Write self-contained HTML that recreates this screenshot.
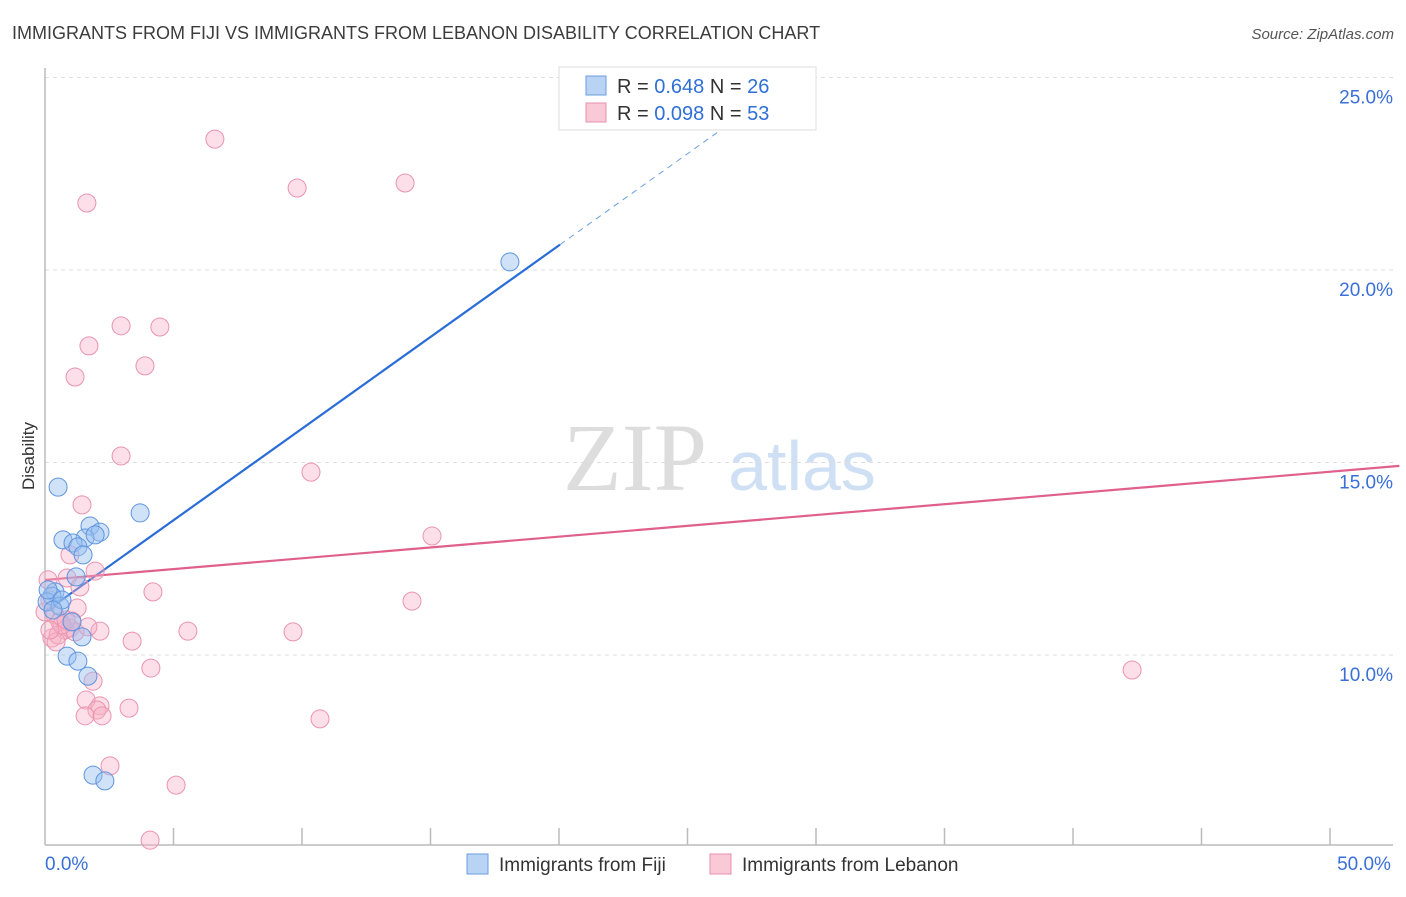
<!DOCTYPE html>
<html><head><meta charset="utf-8"><style>
body{margin:0;background:#fff;font-family:"Liberation Sans",sans-serif}
</style></head><body>
<svg id="chart" width="1406" height="892" viewBox="0 0 1406 892" xmlns="http://www.w3.org/2000/svg" font-family="Liberation Sans, sans-serif">
<text x="12" y="39" font-size="18" fill="#3c3c3c">IMMIGRANTS FROM FIJI VS IMMIGRANTS FROM LEBANON DISABILITY CORRELATION CHART</text>
<text x="1394" y="39" font-size="15" fill="#555" font-style="italic" text-anchor="end">Source: ZipAtlas.com</text>
<text transform="translate(34,456) rotate(-90)" font-size="17" fill="#333" text-anchor="middle">Disability</text>
<g>
<text x="635" y="490" font-size="96" fill="#ddd" font-family="Liberation Serif, serif" text-anchor="middle">ZIP</text>
<text x="802" y="490" font-size="70" fill="#cfe0f4" text-anchor="middle">atlas</text>
</g>
<g id="grid"></g>
<g id="axes"></g>
<g id="trend"></g>
<g id="points"></g>
<g>
<rect x="559" y="67" width="257" height="63" fill="#fff" stroke="#ddd"/>
<rect x="586" y="76" width="20" height="19" fill="#b9d3f5" stroke="#6a9ee0"/>
<rect x="586" y="103" width="20" height="19" fill="#f9c9d8" stroke="#e890ab"/>
<text x="617" y="93" font-size="20" fill="#333">R = <tspan fill="#2f6fd6">0.648</tspan>   N = <tspan fill="#2f6fd6">26</tspan></text>
<text x="617" y="120" font-size="20" fill="#333">R = <tspan fill="#2f6fd6">0.098</tspan>   N = <tspan fill="#2f6fd6">53</tspan></text>
</g>
<g>
<rect x="467" y="854" width="21" height="20" fill="#b9d3f5" stroke="#6a9ee0"/>
<text x="499" y="871" font-size="19" fill="#333">Immigrants from Fiji</text>
<rect x="710" y="854" width="21" height="20" fill="#f9c9d8" stroke="#e890ab"/>
<text x="742" y="871" font-size="19" fill="#333">Immigrants from Lebanon</text>
</g>
</svg>
<script>
const yTicks=[10,15,20,25];
const xTickLabels=["0.0%","50.0%"];
const fijiX=[0.51,0.70,3.70,1.75,2.14,1.56,1.95,1.09,1.28,1.48,1.21,0.39,0.27,0.08,0.58,1.05,1.44,0.86,1.28,1.67,1.87,2.33,18.09,0.12,0.66,0.31];
const fijiY=[14.36,12.99,13.69,13.35,13.19,13.04,13.12,12.91,12.81,12.60,12.03,11.64,11.53,11.38,11.27,10.86,10.47,9.97,9.84,9.45,6.88,6.73,20.21,11.69,11.43,11.17];
const lebX=[6.61,9.81,14.01,1.63,2.96,4.47,1.71,3.89,1.17,2.96,10.35,1.44,15.06,0.97,1.95,0.86,1.36,4.20,1.25,14.28,2.14,5.56,9.65,3.39,4.12,42.30,1.87,1.60,2.14,2.02,3.27,1.56,2.22,10.70,2.53,5.10,4.09,0.12,0.19,0.39,0.58,0.78,0.27,0.51,0.97,1.17,0.66,0.43,0.82,1.67,0.0,1.05,0.19];
const lebY=[23.40,22.13,22.26,21.74,18.55,18.52,18.03,17.51,17.22,15.17,14.75,13.90,13.09,12.60,12.18,12.00,11.77,11.64,11.22,11.40,10.62,10.62,10.60,10.36,9.66,9.61,9.32,8.83,8.68,8.57,8.62,8.42,8.42,8.34,7.12,6.62,5.19,11.95,11.43,11.04,10.86,10.65,10.44,10.52,10.70,10.60,10.78,10.34,10.91,10.73,11.12,10.88,10.65];
const fijiTrend=[11.12,0.476];
const lebTrend=[11.95,0.0562];
const NS="http://www.w3.org/2000/svg";
const xs=v=>45+v*25.7;
const ys=v=>655-(v-10)*38.5;
function mk(tag,attrs,parent){const e=document.createElementNS(NS,tag);for(const k in attrs)e.setAttribute(k,attrs[k]);document.getElementById(parent).appendChild(e);return e;}
yTicks.forEach(t=>{
 const l=mk('line',{x1:45,x2:1393,y1:ys(t),y2:ys(t),stroke:'#ddd','stroke-dasharray':'4,4'},'grid');
 
 
 const tx=mk('text',{x:1393,y:ys(t)+26,'font-size':19,fill:'#3a6fd8','text-anchor':'end'},'grid');
 tx.textContent=t.toFixed(1)+'%';
 
 
});
const ya=mk('line',{x1:45,x2:45,y1:68,y2:845,stroke:'#bbb','stroke-width':1.5},'axes');


const xa=mk('line',{x1:45,x2:1393,y1:845,y2:845,stroke:'#bbb','stroke-width':1.5},'axes');


for(let v=5;v<=50;v+=5){const t=mk('line',{x1:xs(v),x2:xs(v),y1:828,y2:845,stroke:'#bbb','stroke-width':1.5},'axes');
 
 }
[[0,'start'],[50,'middle']].forEach((p,i)=>{const t=mk('text',{x:i?1364:45,y:870,'font-size':19,fill:'#3a6fd8','text-anchor':p[1]},'axes');t.textContent=xTickLabels[i];
 
 });
const bEnd=20.04;
const bl=mk('line',{x1:xs(0),y1:ys(fijiTrend[0]),x2:xs(bEnd),y2:ys(fijiTrend[0]+fijiTrend[1]*bEnd),stroke:'#2a6dd6','stroke-width':2.2},'trend');


const dEnd=27.5;
const bd=mk('line',{x1:xs(bEnd),y1:ys(fijiTrend[0]+fijiTrend[1]*bEnd),x2:xs(dEnd),y2:ys(fijiTrend[0]+fijiTrend[1]*dEnd),stroke:'#6a9ee0','stroke-width':1,'stroke-dasharray':'6,5'},'trend');


const pl=mk('line',{x1:xs(0),y1:ys(lebTrend[0]),x2:xs(52.7),y2:ys(lebTrend[0]+lebTrend[1]*52.7),stroke:'#e0608a','stroke-width':2.2},'trend');


lebX.forEach((x,i)=>{const c=mk('circle',{cx:xs(x),cy:ys(lebY[i]),r:9,fill:'rgba(248,175,198,0.4)',stroke:'#ea94b0','stroke-width':1},'points');
 
 });
fijiX.forEach((x,i)=>{const c=mk('circle',{cx:xs(x),cy:ys(fijiY[i]),r:9,fill:'rgba(150,190,240,0.45)',stroke:'#5f95de','stroke-width':1},'points');
 
 });
</script>
</body></html>
